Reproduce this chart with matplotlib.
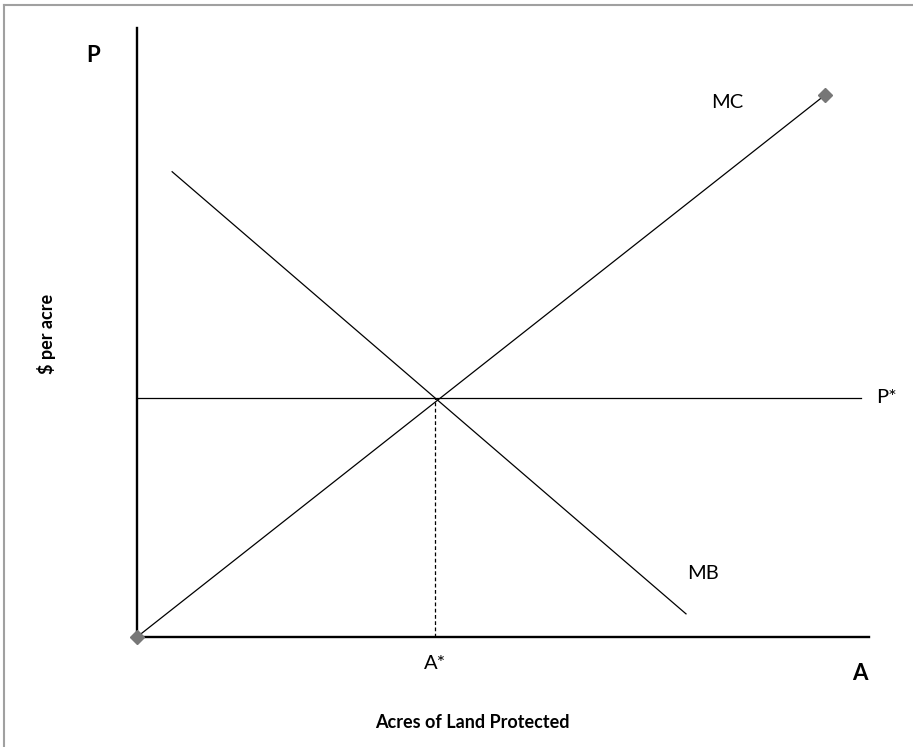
import numpy as np
import matplotlib
matplotlib.use("Agg")
import matplotlib.pyplot as plt
from matplotlib.lines import Line2D

plt.rcParams['font.family'] = ['Lato', 'DejaVu Sans']

# curves in chart units (x: acres, y: $ per acre), axes run 0..100
mc_x = [0.0, 94.0]
mc_y = [0.0, 89.0]
mb_x = [4.8, 75.0]
mb_y = [76.4, 3.8]
p_star = 39.2
p_star_end = 98.9
a_star = 40.7

fig = plt.figure(figsize=(9.13, 7.47), dpi=100)
ax = fig.add_axes([137/913, 110/747, 732/913, 609/747])
ax.set_xlim(0, 100)
ax.set_ylim(0, 100)

for s in ['top', 'right']:
    ax.spines[s].set_visible(False)
for s in ['left', 'bottom']:
    ax.spines[s].set_linewidth(1.7)
    ax.spines[s].set_color('black')
ax.set_xticks([])
ax.set_yticks([])

ax.plot(mc_x, mc_y, color='black', lw=0.9, zorder=3)
ax.plot(mc_x, mc_y, 'D', color='#777777', ms=7, clip_on=False, zorder=4)
ax.plot(mb_x, mb_y, color='black', lw=0.9, zorder=3)
ax.plot([0, p_star_end], [p_star, p_star], color='black', lw=0.9, zorder=3)
ax.plot([a_star, a_star], [0, p_star], color='black', lw=0.9, ls=(0, (3, 2)), zorder=2)

ax.text(78.4, 87.8, 'MC', fontsize=14.5, va='center', ha='left')
ax.text(101.0, p_star + 0.2, 'P*', fontsize=14.5, va='center', ha='left')
ax.text(75.2, 10.5, 'MB', fontsize=14.5, va='center', ha='left')
ax.text(a_star, -4.3, 'A*', fontsize=14.5, va='center', ha='center')

fig.text(93/913, 1 - 55/747, 'P', fontsize=16, fontweight='bold', ha='center', va='center')
fig.text(860/913, 1 - 674/747, 'A', fontsize=16, fontweight='bold', ha='center', va='center')
fig.text(46/913, 1 - 334/747, '$ per acre', fontsize=13, fontweight='bold',
         rotation=90, ha='center', va='center')
fig.text(472/913, 1 - 723/747, 'Acres of Land Protected', fontsize=13,
         fontweight='bold', ha='center', va='center')

# frame lines on top and left
fig.add_artist(Line2D([4/913, 1], [1 - 5/747, 1 - 5/747], color='#a0a0a0', lw=1.5))
fig.add_artist(Line2D([4/913, 4/913], [0, 1 - 5/747], color='#a0a0a0', lw=1.5))

fig.savefig('out.png', dpi=100)
